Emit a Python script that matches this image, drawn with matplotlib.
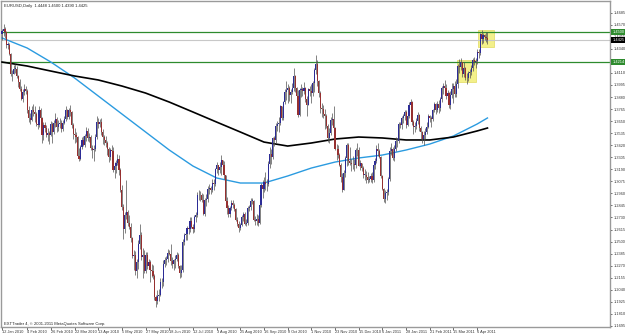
"""
EURUSD daily candle chart (MetaTrader style), Jan 2010 - Apr 2011
with two moving averages, two horizontal levels and two highlight boxes.
"""

import numpy as np
import pandas as pd
import matplotlib
matplotlib.use("Agg")
import matplotlib.pyplot as plt
import matplotlib.transforms as mtransforms
from matplotlib.patches import Rectangle

# ── Data (prices x 10000) ────────────────────────────────────────────────────
START, END = "2010-01-12", "2011-04-15"
FIRST_OPEN = 14480

CLOSE = [
    # Jan 2010
    14508, 14530, 14500, 14378, 14380, 14290, 14100, 14100, 14150, 14150, 14080, 14020, 13960, 13865,
    # Feb
    13930, 13960, 13940, 13760, 13680, 13660, 13760, 13740, 13720, 13620,
    13610, 13760, 13680, 13520, 13610, 13580, 13520, 13540, 13520, 13620,
    # Mar
    13550, 13630, 13670, 13590, 13620, 13630, 13570, 13630, 13670, 13760, 13690, 13760,
    13740, 13610, 13530, 13520, 13500, 13320, 13290, 13400, 13470, 13420, 13510,
    # Apr
    13560, 13490, 13500, 13390, 13370, 13380, 13500, 13640, 13620, 13640, 13550,
    13500, 13470, 13440, 13380, 13310, 13370, 13360, 13180, 13220, 13250, 13290,
    # May
    13180, 12990, 12830, 12620, 12750, 12780, 12680, 12640, 12530, 12360, 12370,
    12220, 12300, 12480, 12560, 12350, 12370, 12220, 12370, 12270, 12300,
    # Jun
    12230, 12220, 12170, 11970, 11930, 11980, 11990, 12110, 12110, 12290, 12320,
    12330, 12390, 12380, 12310, 12290, 12320, 12330, 12370, 12270, 12200, 12230,
    # Jul
    12500, 12560, 12570, 12630, 12620, 12700, 12640, 12620, 12730, 12750, 12940,
    12940, 12940, 12900, 12760, 12900, 12910, 13000, 13010, 12990, 13060, 13050,
    # Aug
    13190, 13230, 13180, 13210, 13280, 13230, 13140, 12890, 12820, 12760, 12820,
    12870, 12850, 12810, 12710, 12670, 12630, 12660, 12730, 12760, 12670, 12680,
    # Sep
    12820, 12830, 12890, 12890, 12710, 12700, 12720, 12680, 12850, 13040, 13000,
    13070, 13050, 13050, 13240, 13340, 13310, 13490, 13470, 13600, 13620, 13630,
    # Oct
    13790, 13680, 13830, 13930, 13950, 13970, 13900, 13930, 13970, 14080, 13970,
    13890, 13710, 13950, 13960, 13940, 13970, 13860, 13800, 13960, 13940,
    # Nov
    13920, 14010, 14140, 14200, 14030, 13920, 13780, 13770, 13720, 13700, 13600,
    13490, 13540, 13660, 13670, 13580, 13380, 13380, 13330, 13230, 13120, 12990,
    # Dec
    13150, 13300, 13420, 13270, 13250, 13240, 13240, 13230, 13370, 13370, 13220, 13250,
    13200, 13140, 13140, 13120, 13090, 13100, 13130, 13090, 13230, 13270, 13380,
    # Jan 2011
    13360, 13310, 13130, 13000, 12910, 12960, 12970, 13100, 13360, 13380, 13300,
    13380, 13460, 13460, 13620, 13610, 13680, 13700, 13740, 13610, 13700,
    # Feb
    13800, 13830, 13640, 13590, 13600, 13650, 13710, 13580, 13550, 13480,
    13520, 13550, 13590, 13700, 13680, 13670, 13760, 13810, 13760, 13810,
    # Mar
    13780, 13860, 13970, 13990, 13970, 13890, 13920, 13800, 13900, 13960, 13990, 13910,
    14000, 14180, 14170, 14210, 14100, 14160, 14060, 14060, 14110, 14120, 14160,
    # Apr
    14230, 14210, 14220, 14310, 14300, 14480, 14430, 14470, 14450, 14448, 14425,
]

HIGH = [
    14530, 14580, 14550, 14510, 14410, 14400, 14300, 14140, 14190, 14200, 14180, 14090, 14050, 13990,
    13960, 14000, 13990, 13960, 13790, 13730, 13790, 13810, 13790, 13740,
    13650, 13790, 13780, 13690, 13640, 13640, 13610, 13580, 13560, 13650,
    13640, 13660, 13730, 13690, 13660, 13680, 13660, 13660, 13700, 13790, 13770, 13780,
    13800, 13750, 13630, 13580, 13550, 13510, 13390, 13420, 13500, 13510, 13530,
    13590, 13580, 13540, 13520, 13420, 13420, 13530, 13700, 13680, 13670, 13680,
    13570, 13520, 13510, 13460, 13400, 13390, 13420, 13400, 13260, 13280, 13340,
    13330, 13200, 13040, 12860, 12780, 13090, 12800, 12750, 12680, 12540, 12420,
    12410, 12330, 12510, 12670, 12590, 12440, 12420, 12400, 12400, 12330,
    12320, 12290, 12280, 12190, 11990, 12040, 12050, 12150, 12150, 12320, 12350,
    12360, 12430, 12420, 12480, 12350, 12330, 12370, 12400, 12390, 12280, 12280,
    12520, 12580, 12600, 12650, 12670, 12730, 12730, 12670, 12750, 12780, 12970,
    12990, 12980, 12960, 12950, 12920, 12950, 13030, 13050, 13030, 13100, 13100,
    13200, 13260, 13230, 13260, 13330, 13280, 13270, 13140, 12930, 12850, 12840,
    12900, 12900, 12870, 12820, 12730, 12700, 12680, 12750, 12780, 12780, 12720,
    12840, 12850, 12920, 12920, 12900, 12740, 12760, 12750, 12870, 13060, 13090,
    13120, 13160, 13100, 13270, 13400, 13380, 13500, 13510, 13630, 13650, 13690,
    13800, 13790, 13840, 13960, 14030, 14000, 13990, 13960, 14010, 14160, 14090,
    13980, 13950, 13970, 14000, 13980, 14020, 13980, 13890, 13970, 13990,
    14000, 14030, 14160, 14282, 14230, 14040, 13940, 13820, 13800, 13770, 13720,
    13620, 13580, 13690, 13730, 13790, 13590, 13430, 13420, 13350, 13250, 13150,
    13180, 13320, 13440, 13440, 13400, 13290, 13320, 13290, 13390, 13440, 13400, 13280,
    13250, 13220, 13190, 13170, 13160, 13130, 13150, 13160, 13250, 13300, 13420,
    13440, 13380, 13320, 13140, 13010, 12990, 13000, 13120, 13400, 13440, 13400,
    13420, 13500, 13490, 13640, 13640, 13700, 13720, 13760, 13760, 13720,
    13830, 13860, 13840, 13660, 13640, 13680, 13740, 13720, 13600, 13560,
    13560, 13580, 13640, 13720, 13710, 13700, 13770, 13830, 13820, 13840,
    13850, 13880, 13990, 14010, 14040, 14000, 13950, 13930, 13940, 14010, 14010, 14030,
    14050, 14200, 14240, 14250, 14210, 14210, 14170, 14110, 14130, 14150, 14190,
    14250, 14260, 14250, 14340, 14340, 14490, 14520, 14490, 14480, 14500, 14500,
]

LOW = [
    14420, 14460, 14440, 14350, 14340, 14280, 14080, 14030, 14100, 14110, 14060, 13980, 13940, 13850,
    13830, 13900, 13910, 13730, 13640, 13620, 13650, 13700, 13640, 13600,
    13570, 13590, 13640, 13440, 13470, 13550, 13500, 13460, 13430, 13510,
    13440, 13530, 13590, 13550, 13560, 13580, 13550, 13560, 13620, 13650, 13670, 13670,
    13700, 13580, 13480, 13440, 13450, 13300, 13270, 13280, 13380, 13410, 13400,
    13460, 13460, 13450, 13370, 13300, 13270, 13360, 13480, 13580, 13590, 13520,
    13430, 13420, 13400, 13330, 13260, 13280, 13300, 13160, 13110, 13150, 13230,
    13140, 12970, 12800, 12520, 12580, 12720, 12650, 12620, 12500, 12340, 12230,
    12180, 12150, 12240, 12430, 12320, 12150, 12200, 12200, 12240, 12240,
    12110, 12160, 12140, 11940, 11876, 11900, 11930, 11980, 12060, 12080, 12260,
    12280, 12300, 12370, 12280, 12250, 12230, 12250, 12310, 12250, 12150, 12160,
    12210, 12470, 12510, 12510, 12570, 12590, 12630, 12580, 12590, 12690, 12730,
    12900, 12890, 12880, 12750, 12740, 12840, 12880, 12950, 12950, 12970, 12990,
    13030, 13150, 13140, 13150, 13140, 13200, 13100, 12870, 12760, 12730, 12730,
    12800, 12820, 12790, 12700, 12650, 12590, 12610, 12650, 12700, 12660, 12650,
    12660, 12790, 12800, 12860, 12700, 12660, 12660, 12650, 12670, 12830, 12920,
    12970, 12990, 12980, 13030, 13200, 13240, 13290, 13410, 13440, 13560, 13550,
    13610, 13660, 13660, 13810, 13850, 13820, 13840, 13820, 13910, 13940, 13930,
    13830, 13690, 13700, 13880, 13890, 13910, 13830, 13700, 13800, 13890,
    13820, 13890, 13930, 14100, 13990, 13880, 13730, 13690, 13680, 13570, 13580,
    13450, 13440, 13520, 13610, 13550, 13370, 13280, 13300, 13220, 13070, 12970,
    12990, 13120, 13220, 13230, 13230, 13170, 13190, 13170, 13200, 13320, 13220, 13180,
    13170, 13110, 13090, 13060, 13060, 13070, 13070, 13060, 13070, 13190, 13250,
    13320, 13300, 13110, 12990, 12880, 12870, 12900, 12940, 13080, 13330, 13280,
    13270, 13360, 13400, 13440, 13580, 13570, 13630, 13660, 13580, 13600,
    13680, 13770, 13610, 13530, 13550, 13570, 13620, 13560, 13480, 13440,
    13420, 13480, 13530, 13580, 13640, 13590, 13650, 13740, 13720, 13740,
    13730, 13750, 13830, 13910, 13910, 13860, 13860, 13780, 13770, 13870, 13820, 13880,
    13880, 13970, 14110, 14140, 14070, 14070, 14040, 14000, 14030, 14060, 14090,
    14130, 14190, 14160, 14200, 14250, 14280, 14390, 14400, 14420, 14410, 14390,
]

MA_DATES = ["2010-01-12", "2010-02-04", "2010-02-26", "2010-03-22", "2010-04-13",
            "2010-05-05", "2010-05-27", "2010-06-18", "2010-07-12", "2010-08-03",
            "2010-08-25", "2010-09-16", "2010-10-08", "2010-11-01", "2010-11-23",
            "2010-12-15", "2011-01-06", "2011-01-28", "2011-02-21", "2011-03-15",
            "2011-04-06", "2011-04-15"]
MA_FAST = [1.4444, 1.4348, 1.4214, 1.4062, 1.3890, 1.3718, 1.3546, 1.3374, 1.3221, 1.3107,
           1.3059, 1.3059, 1.3126, 1.3202, 1.3259, 1.3298, 1.3326, 1.3374, 1.3431, 1.3508,
           1.3622, 1.3680]
MA_SLOW = [1.4214, 1.4176, 1.4128, 1.4081, 1.4043, 1.3985, 1.3918, 1.3832, 1.3737, 1.3641,
           1.3546, 1.3450, 1.3412, 1.3441, 1.3479, 1.3498, 1.3489, 1.3470, 1.3470, 1.3498,
           1.3556, 1.3584]

TICK_DATES = MA_DATES[:-1]
LEVELS = [1.4500, 1.4214]
# highlight boxes: first bar, last bar, low, high
BOXES = [("2011-03-18", "2011-04-05", 1.4023, 1.4234),
         ("2011-04-07", "2011-04-15", 1.4358, 1.4520)]

# ── Build arrays ─────────────────────────────────────────────────────────────
dates = pd.bdate_range(START, END)
close = np.array(CLOSE) / 10000
high = np.array(HIGH) / 10000
low = np.array(LOW) / 10000
open_ = np.concatenate([[FIRST_OPEN / 10000], close[:-1]])
assert len(dates) == len(close) == len(high) == len(low)
x = np.arange(len(dates))
idx = {d.strftime("%Y-%m-%d"): i for i, d in enumerate(dates)}

# ── Figure ───────────────────────────────────────────────────────────────────
plt.rcParams["font.family"] = ["Liberation Sans", "DejaVu Sans"]
W, H = 625, 334
fig = plt.figure(figsize=(W / 100, H / 100), dpi=100)
ax = fig.add_axes([1 / W, 7 / H, 609 / W, 326 / H])
ax.set_xlim(-0.7, 410.8)
ax.set_ylim(1.1684, 1.4797)

# highlight boxes
for d0, d1, lo, hi in BOXES:
    x0 = idx[d0] - 0.5
    x1 = idx[d1] + 0.5 + (4 if d1 == END else 0)
    ax.add_patch(Rectangle((x0, lo), x1 - x0, hi - lo, facecolor="#f3f08a",
                           edgecolor="#e6e070", lw=0.6, zorder=1))

# horizontal levels and current price line
for lv in LEVELS:
    ax.axhline(lv, color="#2e8b2e", lw=0.9, zorder=2)
ax.axhline(close[-1], color="#c8c8c8", lw=0.8, zorder=2)

# moving averages
ma_x = [idx[d] for d in MA_DATES]
ax.plot(ma_x, MA_FAST, color="#2b9be0", lw=1.0, zorder=3)
ax.plot(ma_x, MA_SLOW, color="black", lw=1.2, zorder=3)

# candles
up = close >= open_
ax.vlines(x, low, high, color="#505050", lw=0.5, zorder=4)
body = np.abs(close - open_)
body = np.maximum(body, 0.0004)
ax.bar(x[up], body[up], bottom=open_[up], width=0.75, color="#2c2c96", lw=0, zorder=5)
ax.bar(x[~up], body[~up], bottom=np.minimum(open_, close)[~up], width=0.75,
       color="#963030", lw=0, zorder=5)

# ── Axes styling ─────────────────────────────────────────────────────────────
for s in ax.spines.values():
    s.set_color("#9a9a9a")
    s.set_linewidth(1.0)

ax.yaxis.tick_right()
yt = 1.4685 - 0.0115 * np.arange(27)
ax.set_yticks(yt)
ax.set_yticklabels([f"{v:.4f}" for v in yt])
ax.tick_params(axis="y", length=1.5, width=0.5, pad=1, labelsize=2.8, colors="#333333")

ax.set_xticks([idx[d] for d in TICK_DATES])
ax.set_xticklabels([f"{pd.Timestamp(d).day} {pd.Timestamp(d):%b %Y}" for d in TICK_DATES],
                   ha="left")
ax.tick_params(axis="x", length=2, width=0.5, pad=0.5, labelsize=2.8, colors="#333333")

# price tags on the right scale
blend = mtransforms.blended_transform_factory(ax.transAxes, ax.transData)
for lv in LEVELS:
    ax.text(1.004, lv, f"{lv:.4f}", transform=blend, fontsize=2.8, color="white",
            va="center", ha="left", clip_on=False, zorder=10,
            bbox=dict(boxstyle="square,pad=0.25", fc="#2e8b2e", ec="none"))
ax.text(1.004, close[-1], f"{close[-1]:.4f}", transform=blend, fontsize=2.8, color="white",
        va="center", ha="left", clip_on=False, zorder=10,
        bbox=dict(boxstyle="square,pad=0.25", fc="black", ec="none"))

# header and footer
ax.text(0.005, 0.99,
        f"EURUSD,Daily  {open_[-1]:.4f} {high[-1]:.4f} {low[-1]:.4f} {close[-1]:.4f}",
        transform=ax.transAxes, fontsize=3.0, va="top", ha="left", color="#222222")
ax.text(0.005, 0.004, "EXTTrader 4, \u00a9 2001-2011 MetaQuotes Software Corp.",
        transform=ax.transAxes, fontsize=3.0, va="bottom", ha="left", color="#222222")

fig.savefig("out.png", dpi=100)
plt.close(fig)
